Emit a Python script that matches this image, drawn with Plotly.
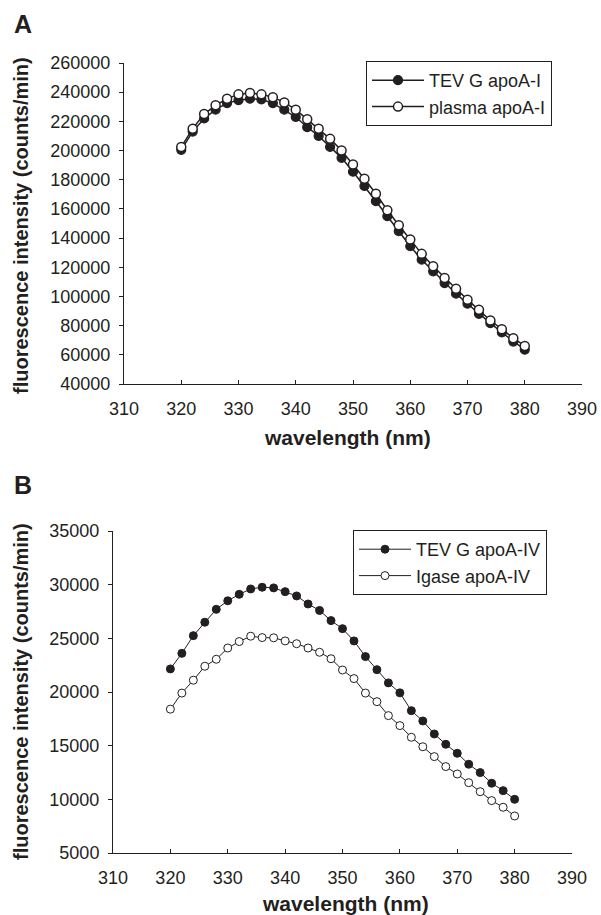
import plotly.graph_objects as go
from plotly.subplots import make_subplots

# wavelength grid (nm)
wavelength = [320, 322, 324, 326, 328, 330, 332, 334, 336, 338, 340, 342, 344, 346, 348, 350,
              352, 354, 356, 358, 360, 362, 364, 366, 368, 370, 372, 374, 376, 378, 380]

# Panel A
tevg_apoa1 = [200500, 213000, 222000, 228000, 232500, 234500, 235500, 235000, 232500, 228000,
              223000, 216000, 210000, 202500, 195000, 185500, 175700, 165300, 155000, 144700,
              134400, 125200, 117200, 109200, 101900, 95000, 88100, 81700, 75300, 69100, 63500]
plasma_apoa1 = [202500, 215000, 225000, 231000, 235500, 238500, 239500, 238500, 236500, 233000,
                228000, 221500, 215000, 208000, 200000, 190500, 180700, 170400, 159100, 148800,
                139000, 129200, 120700, 112700, 105300, 97800, 90900, 83500, 77600, 71400, 66100]

# Panel B
tevg_apoa4 = [22150, 23600, 25250, 26500, 27700, 28500, 29100, 29600, 29760, 29700,
              29350, 28950, 28200, 27600, 26650, 25900, 24760, 23300, 22080, 20850,
              19920, 18260, 17300, 16090, 15130, 14290, 13270, 12490, 11500, 10810, 10000]
igase_apoa4 = [18400, 19900, 21100, 22400, 23050, 24100, 24700, 25200, 25070, 25050,
               24760, 24500, 24100, 23700, 23100, 22050, 21250, 19900, 19100, 17800,
               16870, 15780, 14900, 13980, 13050, 12360, 11550, 10710, 9880, 9260, 8450]

W, H = 601, 915
FONT = "Arial, Liberation Sans, sans-serif"
INK = "#231f20"


def px_x(p):
    return p / W


def px_y(p):
    return 1 - p / H


fig = make_subplots(rows=2, cols=1)

# --- panel A traces
fig.add_trace(go.Scatter(
    x=wavelength, y=tevg_apoa1, mode="lines+markers", name="TEV G apoA-I",
    line=dict(color=INK, width=1.5),
    marker=dict(symbol="circle", size=9, color=INK, line=dict(color=INK, width=1.2)),
    legend="legend",
), row=1, col=1)
fig.add_trace(go.Scatter(
    x=wavelength, y=plasma_apoa1, mode="lines+markers", name="plasma apoA-I",
    line=dict(color=INK, width=1.5),
    marker=dict(symbol="circle", size=9, color="white", line=dict(color=INK, width=1.5)),
    legend="legend",
), row=1, col=1)

# --- panel B traces
fig.add_trace(go.Scatter(
    x=wavelength, y=tevg_apoa4, mode="lines+markers", name="TEV G apoA-IV",
    line=dict(color=INK, width=1),
    marker=dict(symbol="circle", size=8, color=INK, line=dict(color=INK, width=1)),
    legend="legend2",
), row=2, col=1)
fig.add_trace(go.Scatter(
    x=wavelength, y=igase_apoa4, mode="lines+markers", name="Igase apoA-IV",
    line=dict(color=INK, width=1),
    marker=dict(symbol="circle", size=8, color="white", line=dict(color=INK, width=1)),
    legend="legend2",
), row=2, col=1)

axis_common = dict(
    showgrid=False, zeroline=False, showline=True, linecolor=INK, linewidth=1,
    tickcolor=INK, ticklen=4, tickwidth=1, automargin=False, tickformat="d",
    tickfont=dict(family=FONT, size=18, color=INK),
)

fig.update_xaxes(range=[310, 390], dtick=10, ticks="inside", ticklabelstandoff=8, **axis_common)
fig.update_yaxes(ticks="outside", ticklabelstandoff=5, **axis_common)

fig.update_xaxes(domain=[px_x(124), px_x(582)], row=1, col=1)
fig.update_yaxes(range=[40000, 260000], dtick=20000, domain=[px_y(384), px_y(63)], row=1, col=1)
fig.update_xaxes(domain=[px_x(113), px_x(572)], row=2, col=1)
fig.update_yaxes(range=[5000, 35000], dtick=5000, domain=[px_y(853), px_y(531)], row=2, col=1)

legend_common = dict(
    bgcolor="white", bordercolor=INK, borderwidth=1,
    font=dict(family=FONT, size=18, color=INK),
    xanchor="left", yanchor="top", itemwidth=52,
)

title_font = dict(family=FONT, size=20, color=INK)
xtitle_font = dict(family=FONT, size=21, color=INK)
annotations = [
    dict(text="<b>A</b>", x=px_x(12), y=px_y(8), xanchor="left", yanchor="top",
         font=dict(family=FONT, size=25, color=INK)),
    dict(text="<b>B</b>", x=px_x(12), y=px_y(469), xanchor="left", yanchor="top",
         font=dict(family=FONT, size=25, color=INK)),
    dict(text="<b>fluorescence intensity (counts/min)</b>", x=px_x(21), y=px_y(226),
         textangle=-90, font=title_font),
    dict(text="<b>fluorescence intensity (counts/min)</b>", x=px_x(21), y=px_y(692),
         textangle=-90, font=title_font),
    dict(text="<b>wavelength (nm)</b>", x=px_x(347), y=px_y(437), font=xtitle_font),
    dict(text="<b>wavelength (nm)</b>", x=px_x(345), y=px_y(903), font=xtitle_font),
]
for a in annotations:
    a.update(xref="paper", yref="paper", showarrow=False)
    a.setdefault("xanchor", "center")
    a.setdefault("yanchor", "middle")

fig.update_layout(
    width=W, height=H,
    margin=dict(l=0, r=0, t=0, b=0, autoexpand=False),
    paper_bgcolor="white", plot_bgcolor="white",
    showlegend=True,
    legend=dict(x=px_x(366), y=px_y(61), **legend_common),
    legend2=dict(x=px_x(353), y=px_y(530), **legend_common),
    annotations=annotations,
    font=dict(family=FONT, color=INK),
)

# drop the default page margin so the figure sits at the window's corner
fig.write_html("out.html", config={"displayModeBar": False},
               post_script="document.body.style.margin='0px';")
